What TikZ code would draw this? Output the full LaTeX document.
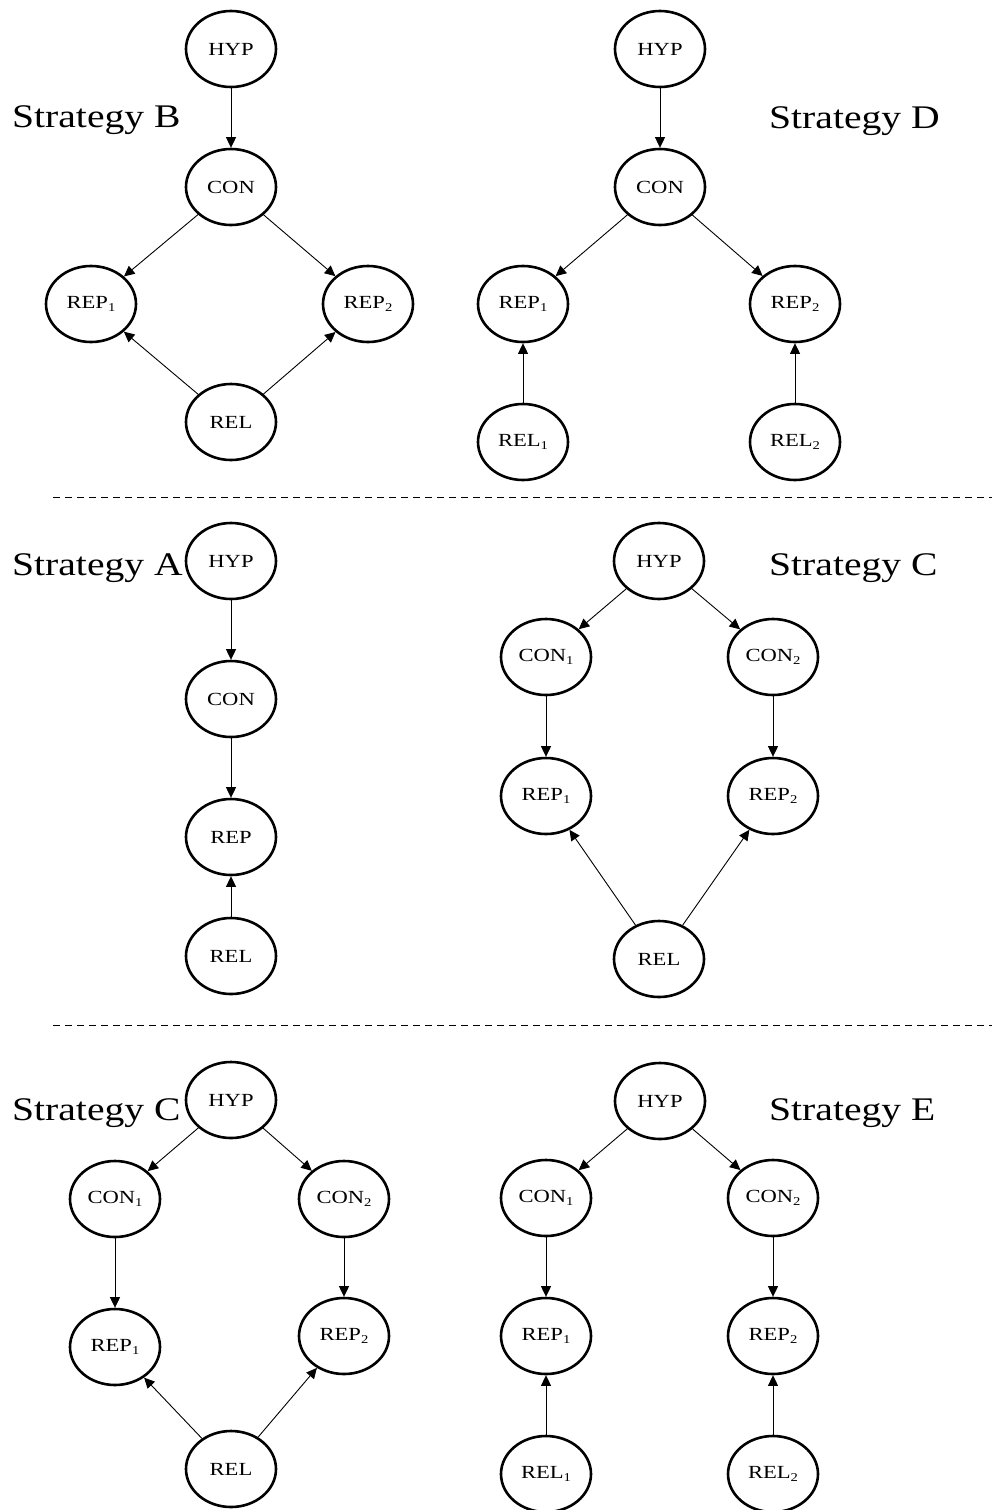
\documentclass[tikz,border=0pt]{standalone}
\usepackage{fontspec}
\usepackage{graphicx}
\setmainfont{Liberation Serif}
\usetikzlibrary{shapes.geometric,arrows.meta}
\newcommand{\nsx}[1]{\scalebox{1.22}[1]{#1}}
\newcommand{\lsx}[1]{\scalebox{1.2}[1]{#1}}
\newcommand{\sbs}[1]{\raisebox{-0.28ex}{\fontsize{12}{12}\selectfont #1}}
\tikzset{
  nd/.style={ellipse, draw, line width=2.6pt, minimum width=90pt, minimum height=76pt, inner sep=0pt,
    font=\fontsize{18.5}{18.5}\selectfont},
  ar/.style={line width=0.9pt, -{Triangle[length=10.5pt,width=10pt]}},
  lbl/.style={anchor=base west, inner sep=0pt, font=\fontsize{33}{33}\selectfont},
  sep/.style={line width=1pt, dash pattern=on 7pt off 5pt}
}
\begin{document}
\begin{tikzpicture}[x=1pt,y=-1pt]
\useasboundingbox (0,0) rectangle (992,1510);
% ---------- Strategy B ----------
\node[lbl] (labB) at (12,127) {\lsx{Strategy B}};
\node[nd] (bHYP) at (231,49) {\nsx{HYP}};
\node[nd] (bCON) at (231,187) {\nsx{CON}};
\node[nd] (bREP1) at (91,304) {\nsx{REP\sbs{1}}};
\node[nd] (bREP2) at (368,304) {\nsx{REP\sbs{2}}};
\node[nd] (bREL) at (231,422) {\nsx{REL}};
\draw[ar] (bHYP) -- (bCON);
\draw[ar] (bCON) -- (bREP1);
\draw[ar] (bCON) -- (bREP2);
\draw[ar] (bREL) -- (bREP1);
\draw[ar] (bREL) -- (bREP2);
% ---------- Strategy D ----------
\node[lbl] (labD) at (769,128) {\lsx{Strategy D}};
\node[nd] (dHYP) at (660,49) {\nsx{HYP}};
\node[nd] (dCON) at (660,187) {\nsx{CON}};
\node[nd] (dREP1) at (523,304) {\nsx{REP\sbs{1}}};
\node[nd] (dREP2) at (795,304) {\nsx{REP\sbs{2}}};
\node[nd] (dREL1) at (523,442) {\nsx{REL\sbs{1}}};
\node[nd] (dREL2) at (795,442) {\nsx{REL\sbs{2}}};
\draw[ar] (dHYP) -- (dCON);
\draw[ar] (dCON) -- (dREP1);
\draw[ar] (dCON) -- (dREP2);
\draw[ar] (dREL1) -- (dREP1);
\draw[ar] (dREL2) -- (dREP2);
% ---------- separator 1 ----------
\coordinate (s1a) at (53,497);
\coordinate (s1b) at (992,497);
\draw[sep] (s1a) -- (s1b);
% ---------- Strategy A ----------
\node[lbl] (labA) at (12,575) {\lsx{Strategy A}};
\node[nd] (aHYP) at (231,561) {\nsx{HYP}};
\node[nd] (aCON) at (231,699) {\nsx{CON}};
\node[nd] (aREP) at (231,837) {\nsx{REP}};
\node[nd] (aREL) at (231,956) {\nsx{REL}};
\draw[ar] (aHYP) -- (aCON);
\draw[ar] (aCON) -- (aREP);
\draw[ar] (aREL) -- (aREP);
% ---------- Strategy C (middle) ----------
\node[lbl] (labC) at (769,575) {\lsx{Strategy C}};
\node[nd] (cHYP) at (659,561) {\nsx{HYP}};
\node[nd] (cCON1) at (546,657) {\nsx{CON\sbs{1}}};
\node[nd] (cCON2) at (773,657) {\nsx{CON\sbs{2}}};
\node[nd] (cREP1) at (546,796) {\nsx{REP\sbs{1}}};
\node[nd] (cREP2) at (773,796) {\nsx{REP\sbs{2}}};
\node[nd] (cREL) at (659,959) {\nsx{REL}};
\draw[ar] (cHYP) -- (cCON1);
\draw[ar] (cHYP) -- (cCON2);
\draw[ar] (cCON1) -- (cREP1);
\draw[ar] (cCON2) -- (cREP2);
\draw[ar] (cREL) -- (cREP1);
\draw[ar] (cREL) -- (cREP2);
% ---------- separator 2 ----------
\coordinate (s2a) at (53,1025);
\coordinate (s2b) at (992,1025);
\draw[sep] (s2a) -- (s2b);
% ---------- Strategy C (bottom) ----------
\node[lbl] (labC2) at (12,1120) {\lsx{Strategy C}};
\node[nd] (gHYP) at (231,1100) {\nsx{HYP}};
\node[nd] (gCON1) at (115,1199) {\nsx{CON\sbs{1}}};
\node[nd] (gCON2) at (344,1199) {\nsx{CON\sbs{2}}};
\node[nd] (gREP1) at (115,1347) {\nsx{REP\sbs{1}}};
\node[nd] (gREP2) at (344,1336) {\nsx{REP\sbs{2}}};
\node[nd] (gREL) at (231,1469) {\nsx{REL}};
\draw[ar] (gHYP) -- (gCON1);
\draw[ar] (gHYP) -- (gCON2);
\draw[ar] (gCON1) -- (gREP1);
\draw[ar] (gCON2) -- (gREP2);
\draw[ar] (gREL) -- (gREP1);
\draw[ar] (gREL) -- (gREP2);
% ---------- Strategy E ----------
\node[lbl] (labE) at (769,1120) {\lsx{Strategy E}};
\node[nd] (eHYP) at (660,1101) {\nsx{HYP}};
\node[nd] (eCON1) at (546,1198) {\nsx{CON\sbs{1}}};
\node[nd] (eCON2) at (773,1198) {\nsx{CON\sbs{2}}};
\node[nd] (eREP1) at (546,1336) {\nsx{REP\sbs{1}}};
\node[nd] (eREP2) at (773,1336) {\nsx{REP\sbs{2}}};
\node[nd] (eREL1) at (546,1474) {\nsx{REL\sbs{1}}};
\node[nd] (eREL2) at (773,1474) {\nsx{REL\sbs{2}}};
\draw[ar] (eHYP) -- (eCON1);
\draw[ar] (eHYP) -- (eCON2);
\draw[ar] (eCON1) -- (eREP1);
\draw[ar] (eCON2) -- (eREP2);
\draw[ar] (eREL1) -- (eREP1);
\draw[ar] (eREL2) -- (eREP2);
\end{tikzpicture}
\end{document}
